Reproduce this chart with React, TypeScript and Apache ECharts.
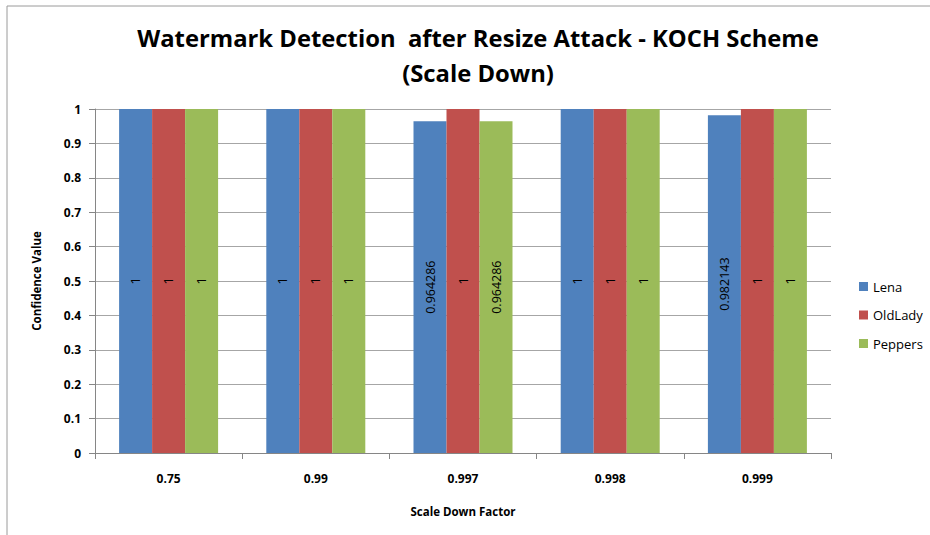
import React, { useEffect, useRef } from "react";
import * as echarts from "echarts";

const categories = ["0.75", "0.99", "0.997", "0.998", "0.999"];
const lena = [1, 1, 0.964286, 1, 0.982143];
const oldLady = [1, 1, 1, 1, 1];
const peppers = [1, 1, 0.964286, 1, 1];
const seriesNames = ["Lena", "OldLady", "Peppers"];
const colors = ["#4F81BD", "#C0504D", "#9BBB59"];

const FONT = "'Open Sans', sans-serif";

export default function App() {
  const ref = useRef<HTMLDivElement>(null);
  useEffect(() => {
    const chart = echarts.init(ref.current!, null, { renderer: "svg" });
    const data = [lena, oldLady, peppers];
    chart.setOption({
      animation: false,
      backgroundColor: "#ffffff",
      title: {
        text: "Watermark Detection  after Resize Attack - KOCH Scheme\n(Scale Down)",
        left: 473,
        textAlign: "center",
        top: 15,
        textStyle: { fontFamily: FONT, fontSize: 23.8, fontWeight: "bold", color: "#000", lineHeight: 35 },
      },
      graphic: [
        {
          type: "rect",
          shape: { x: 7, y: 6, width: 1000, height: 1000 },
          style: { fill: "none", stroke: "#9a9a9a", lineWidth: 1 },
          silent: true,
        },
      ],
      legend: {
        orient: "vertical",
        left: 854,
        top: 275,
        itemWidth: 9,
        itemHeight: 9,
        itemGap: 15.5,
        icon: "rect",
        textStyle: { fontFamily: FONT, fontSize: 13, color: "#000" },
        data: seriesNames,
      },
      grid: { left: 95, right: 99, top: 109, bottom: 82 },
      xAxis: {
        type: "category",
        data: categories,
        name: "Scale Down Factor",
        nameLocation: "middle",
        nameGap: 52,
        nameTextStyle: { fontFamily: FONT, fontSize: 11.5, fontWeight: "bold", color: "#000" },
        axisLine: { lineStyle: { color: "#868686" } },
        axisTick: { show: true, length: 6, lineStyle: { color: "#868686" } },
        axisLabel: { fontFamily: FONT, fontSize: 12, fontWeight: "bold", color: "#000", margin: 19 },
      },
      yAxis: {
        type: "value",
        min: 0,
        max: 1,
        interval: 0.1,
        name: "Confidence Value",
        nameLocation: "middle",
        nameGap: 53,
        nameTextStyle: { fontFamily: FONT, fontSize: 11.5, fontWeight: "bold", color: "#000" },
        axisLine: { show: true, lineStyle: { color: "#868686" } },
        axisTick: { show: true, length: 6, lineStyle: { color: "#868686" } },
        splitLine: { lineStyle: { color: "#a6a6a6" } },
        axisLabel: {
          fontFamily: FONT,
          fontSize: 12,
          fontWeight: "bold",
          color: "#000",
          margin: 14,
          formatter: (v: number) => String(Math.round(v * 10) / 10),
        },
      },
      series: seriesNames.map((name, i) => ({
        name,
        type: "bar",
        data: data[i],
        barWidth: 33,
        barGap: "0%",
        itemStyle: { color: colors[i] },
        label: {
          show: true,
          position: "inside",
          rotate: 90,
          fontFamily: FONT,
          fontSize: 12.5,
          color: "#000",
          formatter: (p: any) => String(p.value),
        },
      })),
    });
    return () => chart.dispose();
  }, []);
  return <div ref={ref} style={{ position: "fixed", left: 0, top: 0, width: 930, height: 535 }} />;
}
